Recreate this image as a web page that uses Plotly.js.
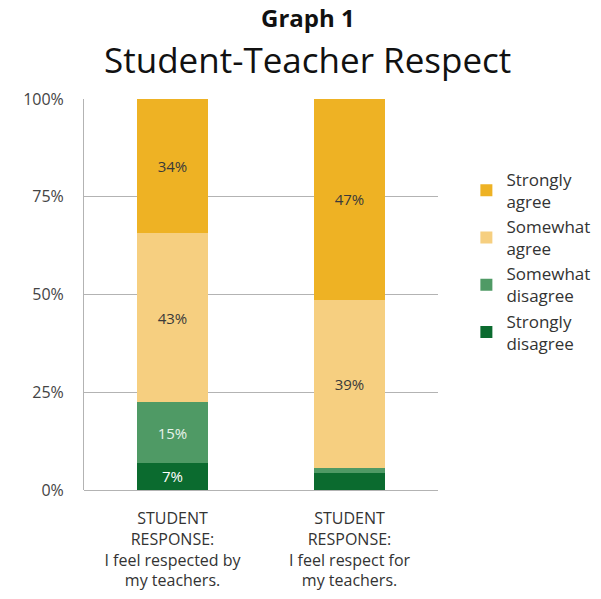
<!DOCTYPE html>
<html><head><meta charset="utf-8">
<script src="https://cdn.plot.ly/plotly-3.0.1.min.js"></script>
<style>html,body{margin:0;padding:0;background:#fff}#chart{width:601px;height:599px}</style>
</head><body><div id="chart"></div>
<script>
const categories = [
  "STUDENT<br>RESPONSE:<br>I feel respected by<br>my teachers.",
  "STUDENT<br>RESPONSE:<br>I feel respect for<br>my teachers."
];
const seriesNames = ["Strongly<br>disagree", "Somewhat<br>disagree", "Somewhat<br>agree", "Strongly<br>agree"];
const stronglyDisagree = [7, 4.3];
const somewhatDisagree = [15.4, 1.3];
const somewhatAgree = [43.4, 43];
const stronglyAgree = [34.2, 51.4];
const labelsStronglyDisagree = ["7%", ""];
const labelsSomewhatDisagree = ["15%", ""];
const labelsSomewhatAgree = ["43%", "39%"];
const labelsStronglyAgree = ["34%", "47%"];
const yTickVals = [0, 25, 50, 75, 100];
const yTickText = ["0%", "25%", "50%", "75%", "100%"];
const titleLine1 = "Graph 1";
const titleLine2 = "Student-Teacher Respect";

const colors = ["#0b6b2f", "#4f9a65", "#f6cf80", "#eeb224"];
const textColors = ["#ffffff", "#e8f3ea", "#3a3a3a", "#3a3a3a"];
const values = [stronglyDisagree, somewhatDisagree, somewhatAgree, stronglyAgree];
const labels = [labelsStronglyDisagree, labelsSomewhatDisagree, labelsSomewhatAgree, labelsStronglyAgree];

const font = "'Open Sans', sans-serif";
const data = values.map((v, i) => ({
  type: "bar",
  name: seriesNames[i],
  x: categories,
  y: v,
  text: labels[i],
  textposition: "inside",
  insidetextanchor: "middle",
  textangle: 0,
  textfont: {family: font, size: 15, color: textColors[i]},
  marker: {color: colors[i], line: {width: 0}},
  hoverinfo: "none"
}));

const layout = {
  width: 601, height: 599,
  margin: {l: 84, r: 163, t: 99, b: 109},
  paper_bgcolor: "#fff", plot_bgcolor: "#fff",
  barmode: "stack",
  bargap: 0.6,
  font: {family: font, color: "#333"},
  annotations: [
    {text: "<b>" + titleLine1 + "</b>", xref: "paper", yref: "paper", x: 0.632, y: 1.208,
     xanchor: "center", yanchor: "middle", showarrow: false, borderpad: 0,
     font: {family: font, size: 24, color: "#111"}},
    {text: titleLine2, xref: "paper", yref: "paper", x: 0.632, y: 1.1,
     xanchor: "center", yanchor: "middle", showarrow: false, borderpad: 0,
     font: {family: font, size: 35, color: "#111"}}
  ],
  xaxis: {
    range: [-0.5, 1.5],
    showgrid: false, zeroline: false, showline: false,
    ticks: "", ticklabelstandoff: 17,
    tickfont: {family: font, size: 16, color: "#333"},
    automargin: false
  },
  yaxis: {
    range: [0, 100],
    tickvals: yTickVals, ticktext: yTickText,
    showgrid: true, gridcolor: "#b3b3b3", gridwidth: 1,
    zeroline: true, zerolinecolor: "#b3b3b3",
    showline: true, linecolor: "#b3b3b3", linewidth: 1,
    ticks: "", ticklabelstandoff: 16,
    tickfont: {family: font, size: 16, color: "#444"},
    automargin: false
  },
  showlegend: true,
  legend: {
    traceorder: "reversed",
    xref: "container", yref: "container",
    x: 0.776, xanchor: "left", y: 0.73, yanchor: "top",
    font: {family: font, size: 17, color: "#333"},
    itemwidth: 30, tracegroupgap: 1,
    bgcolor: "rgba(0,0,0,0)"
  }
};
Plotly.newPlot("chart", data, layout, {displayModeBar: false, staticPlot: true});
</script></body></html>
